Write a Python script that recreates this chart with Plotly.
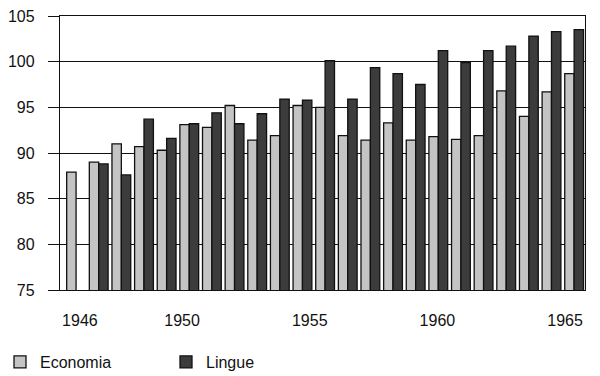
import plotly.graph_objects as go

# 23 bar groups (periods) shown on the original chart
periods = ["1", "2", "3", "4", "5", "6", "7", "8", "9", "10", "11", "12",
           "13", "14", "15", "16", "17", "18", "19", "20", "21", "22", "23"]
economia = [87.9, 89.0, 91.0, 90.7, 90.3, 93.1, 92.8, 95.2, 91.4, 91.9, 95.2, 95.0,
            91.9, 91.4, 93.3, 91.4, 91.8, 91.5, 91.9, 96.8, 94.0, 96.7, 98.7]
lingue = [None, 88.8, 87.6, 93.7, 91.6, 93.2, 94.4, 93.2, 94.3, 95.9, 95.8, 100.1,
          95.9, 99.35, 98.7, 97.5, 101.2, 99.9, 101.2, 101.7, 102.8, 103.3, 103.5]
year_ticks = [1946, 1950, 1955, 1960, 1965]
year_labels = ["1946", "1950", "1955", "1960", "1965"]

FONT = "Liberation Sans, Arial, sans-serif"

fig = go.Figure()
fig.add_trace(go.Bar(x=periods, y=economia, name="Economia",
                     marker=dict(color="#c4c4c4", line=dict(color="#111111", width=1.3))))
fig.add_trace(go.Bar(x=periods, y=lingue, name="Lingue",
                     marker=dict(color="#3c3c3c", line=dict(color="#111111", width=1.3))))
# invisible helper trace so the year axis (x2) is drawn
fig.add_trace(go.Scatter(x=year_ticks, y=[None] * len(year_ticks), xaxis="x2", yaxis="y",
                         mode="markers", showlegend=False, hoverinfo="skip"))

fig.update_layout(
    width=600, height=376,
    margin=dict(l=60, r=15, t=16, b=86),
    paper_bgcolor="white", plot_bgcolor="white",
    font=dict(family=FONT, size=16, color="#111111"),
    barmode="group", bargap=0.17, bargroupgap=0,
    showlegend=True,
    legend=dict(orientation="h", xref="container", yref="container",
                x=-0.016, xanchor="left", y=0.0372, yanchor="middle",
                font=dict(size=16), entrywidth=121, traceorder="normal",
                bgcolor="rgba(0,0,0,0)"),
    xaxis=dict(type="category", range=[-0.71, 22.48], showticklabels=False, ticks="",
               showline=True, linecolor="#111111", linewidth=1.3, mirror=True,
               showgrid=False, fixedrange=True, automargin=False),
    xaxis2=dict(overlaying="x", anchor="y", side="bottom", range=[1945.22, 1965.78],
                tickvals=year_ticks, ticktext=year_labels, ticks="", showgrid=False,
                showline=False, zeroline=False, ticklabelstandoff=19, automargin=False,
                tickfont=dict(size=16, family=FONT, color="#111111")),
    yaxis=dict(range=[75, 105], dtick=5, tick0=75, showgrid=True, gridcolor="#111111",
               gridwidth=1.2, ticks="outside", ticklen=11, tickwidth=1.2, tickcolor="#111111",
               showline=True, linecolor="#111111", linewidth=1.3, mirror=True,
               zeroline=False, ticklabelstandoff=10, automargin=False,
               tickfont=dict(size=16, family=FONT, color="#111111")),
)

fig.write_html("out.html", config={"displayModeBar": False},
               post_script="document.body.style.margin='0';")
